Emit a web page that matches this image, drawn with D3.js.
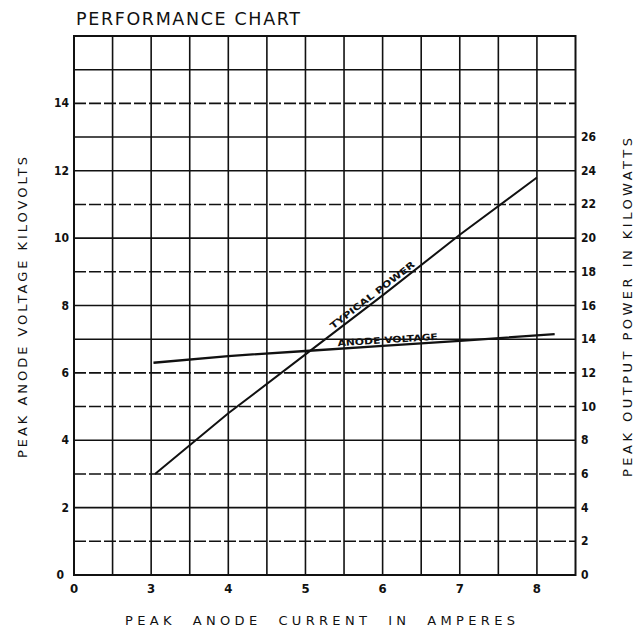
<!DOCTYPE html>
<html>
<head>
<meta charset="utf-8">
<script src="https://cdn.jsdelivr.net/npm/d3@7"></script>
<style>
  html, body { margin: 0; padding: 0; background: #fff; }
  svg { display: block; }
  text { font-family: "DejaVu Sans", sans-serif; fill: #111; }
  .tick { font-family: "DejaVu Sans Condensed", "DejaVu Sans", sans-serif; font-weight: bold; }
</style>
</head>
<body>
<svg id="chart" width="637" height="632"></svg>
<script>
// ---------- data ----------
const xTickValues = [0, 3, 4, 5, 6, 7, 8];          // amperes (broken axis: 0, then 3..8)
const xGridValues = [0, 1.5, 3, 3.5, 4, 4.5, 5, 5.5, 6, 6.5, 7, 7.5, 8, 8.5];
const leftTickValues = [0, 2, 4, 6, 8, 10, 12, 14];  // kilovolts
const yGridValues = d3.range(0, 17, 1);               // kilovolt gridlines 0..16
const rightTickValues = [0, 2, 4, 6, 8, 10, 12, 14, 16, 18, 20, 22, 24, 26]; // kilowatts

// Typical power (kW) vs peak anode current (A)
const powerCurrent = [3.05, 4.0, 5.0, 6.0, 7.0, 8.0];
const powerKW      = [6.0, 9.6, 13.1, 16.6, 20.2, 23.6];
// Anode voltage (kV) vs peak anode current (A)
const voltCurrent  = [3.03, 4.0, 5.0, 6.0, 7.0, 8.23];
const voltKV       = [6.3, 6.5, 6.65, 6.8, 6.95, 7.15];

// ---------- layout ----------
const svg = d3.select("#chart");
const L = 74, R = 575.5, T = 36, B = 575;
const step = (R - L) / 13;
const dashedRows = new Set([14, 11, 9, 6, 5, 3, 1]);

const x = d3.scaleLinear().domain([0, 3, 8.5]).range([L, L + 2 * step, R]);
const yL = d3.scaleLinear().domain([0, 16]).range([B, T]);
const yR = d3.scaleLinear().domain([0, 32]).range([B, T]);

const ink = "#111";

// grid: horizontal
svg.append("g").selectAll("line").data(yGridValues.filter(v => v > 0 && v < 16)).join("line")
  .attr("x1", L).attr("x2", R)
  .attr("y1", d => yL(d)).attr("y2", d => yL(d))
  .attr("stroke", ink).attr("stroke-width", 1.6)
  .attr("stroke-dasharray", d => dashedRows.has(d) ? "12,3" : null);

// grid: vertical
svg.append("g").selectAll("line").data(xGridValues.filter(v => v > 0 && v < 8.5)).join("line")
  .attr("x1", d => x(d)).attr("x2", d => x(d))
  .attr("y1", T).attr("y2", B)
  .attr("stroke", ink).attr("stroke-width", 1.6);

// border
svg.append("rect").attr("x", L).attr("y", T).attr("width", R - L).attr("height", B - T)
  .attr("fill", "none").attr("stroke", ink).attr("stroke-width", 2);

// data lines
const powerPts = powerCurrent.map((c, i) => [c, powerKW[i]]);
const voltPts = voltCurrent.map((c, i) => [c, voltKV[i]]);

svg.append("path").datum(powerPts)
  .attr("d", d3.line().x(d => x(d[0])).y(d => yR(d[1])))
  .attr("fill", "none").attr("stroke", ink).attr("stroke-width", 2);

svg.append("path").datum(voltPts)
  .attr("d", d3.line().x(d => x(d[0])).y(d => yL(d[1])))
  .attr("fill", "none").attr("stroke", ink).attr("stroke-width", 2.3);

// line labels
function lineLabel(text, pts, yScale, xStart, xEnd, offset) {
  const interp = c => {
    for (let i = 0; i < pts.length - 1; i++) {
      if (c >= pts[i][0] && c <= pts[i + 1][0]) {
        const t = (c - pts[i][0]) / (pts[i + 1][0] - pts[i][0]);
        return pts[i][1] + t * (pts[i + 1][1] - pts[i][1]);
      }
    }
    return pts[pts.length - 1][1];
  };
  const x0 = x(xStart), y0 = yScale(interp(xStart));
  const x1 = x(xEnd), y1 = yScale(interp(xEnd));
  const ang = Math.atan2(y1 - y0, x1 - x0) * 180 / Math.PI;
  const len = Math.hypot(x1 - x0, y1 - y0);
  svg.append("text")
    .attr("transform", `translate(${x0},${y0}) rotate(${ang}) translate(0,${-offset})`)
    .attr("font-size", 9).attr("font-weight", "bold")
    .attr("textLength", len).attr("lengthAdjust", "spacingAndGlyphs")
    .text(text);
}
lineLabel("TYPICAL POWER", powerPts, yR, 5.38, 6.45, 3);
lineLabel("ANODE VOLTAGE", voltPts, yL, 5.42, 6.72, 2.5);

// axis tick labels
svg.append("g").selectAll("text").data(xTickValues).join("text")
  .attr("class", "tick")
  .attr("x", d => x(d)).attr("y", 593)
  .attr("text-anchor", "middle").attr("font-size", 13)
  .text(d => d);

svg.append("g").selectAll("text").data(leftTickValues).join("text")
  .attr("class", "tick")
  .attr("x", d => d === 0 ? 64 : 69).attr("y", d => yL(d) + 4)
  .attr("text-anchor", "end").attr("font-size", 12)
  .text(d => d);

svg.append("g").selectAll("text").data(rightTickValues).join("text")
  .attr("class", "tick")
  .attr("x", 581).attr("y", d => yR(d) + 4)
  .attr("text-anchor", "start").attr("font-size", 12)
  .text(d => d);

// titles
svg.append("text").attr("x", 76).attr("y", 25)
  .attr("font-size", 17.5).attr("textLength", 224).attr("lengthAdjust", "spacing")
  .text("PERFORMANCE CHART");

svg.append("text").attr("x", 125).attr("y", 625)
  .attr("font-size", 13).attr("textLength", 390).attr("lengthAdjust", "spacing")
  .attr("xml:space", "preserve")
  .text("PEAK  ANODE  CURRENT  IN  AMPERES");

svg.append("text")
  .attr("transform", "translate(27,458) rotate(-90)")
  .attr("font-size", 13).attr("textLength", 301).attr("lengthAdjust", "spacing")
  .text("PEAK  ANODE  VOLTAGE  KILOVOLTS");

svg.append("text")
  .attr("transform", "translate(632,477) rotate(-90)")
  .attr("font-size", 13).attr("textLength", 339).attr("lengthAdjust", "spacing")
  .text("PEAK  OUTPUT  POWER  IN  KILOWATTS");
</script>
</body>
</html>
